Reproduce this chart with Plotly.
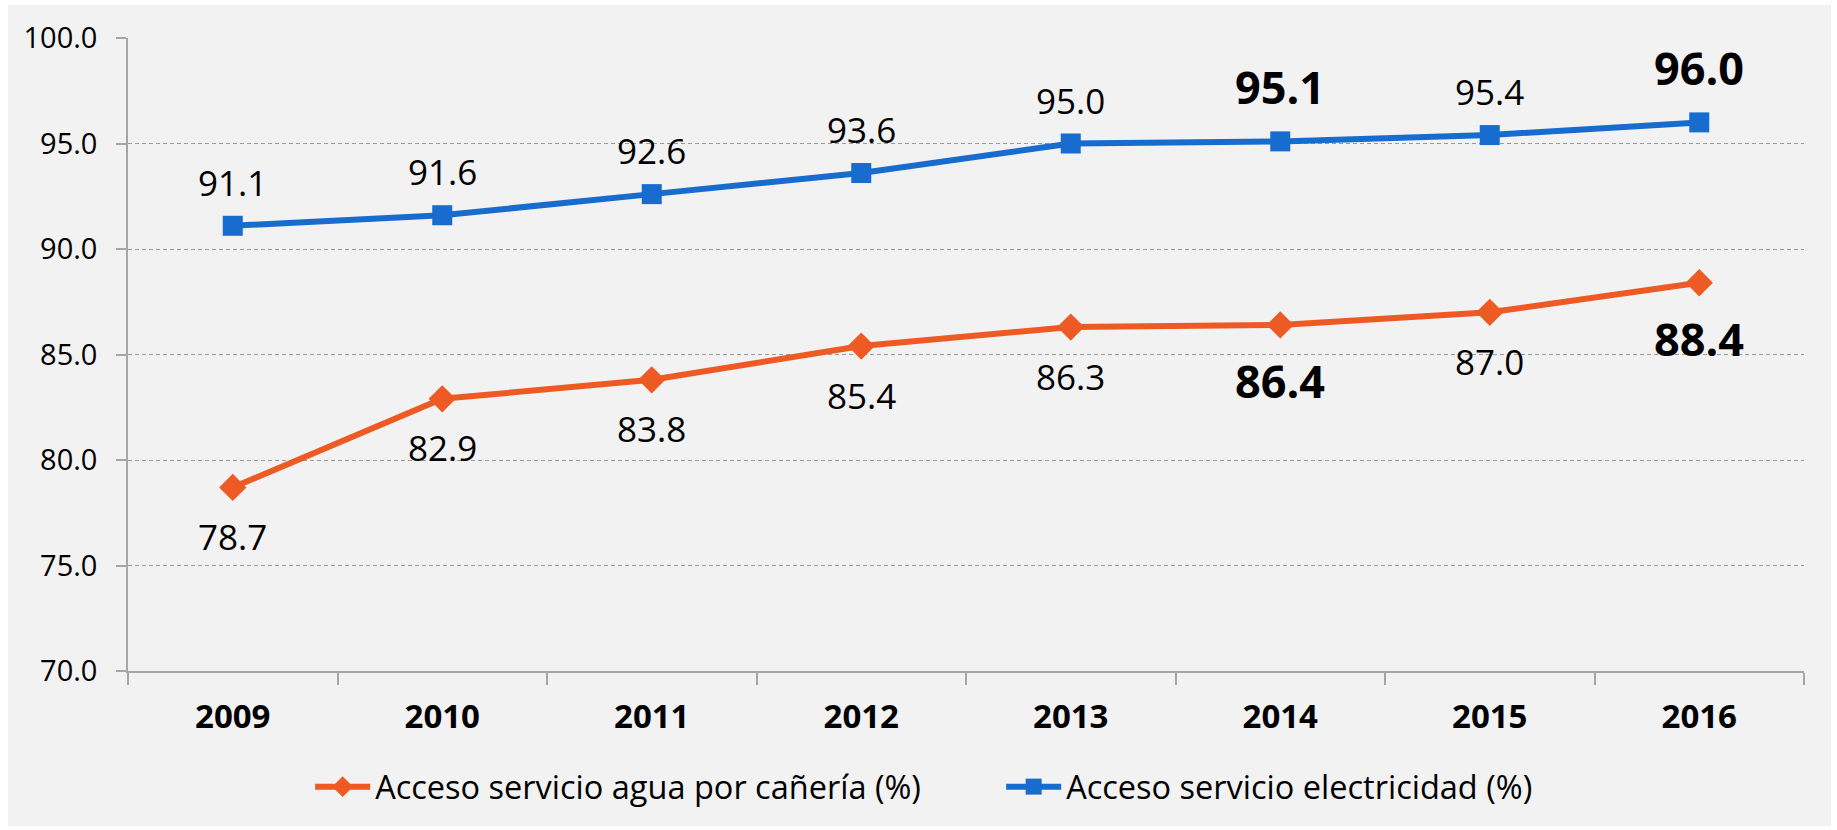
import plotly.graph_objects as go

years = ["2009", "2010", "2011", "2012", "2013", "2014", "2015", "2016"]
agua = [78.7, 82.9, 83.8, 85.4, 86.3, 86.4, 87.0, 88.4]
elec = [91.1, 91.6, 92.6, 93.6, 95.0, 95.1, 95.4, 96.0]
highlight_years = ["2014", "2016"]
name_agua = "Acceso servicio agua por cañería (%)"
name_elec = "Acceso servicio electricidad (%)"

BLUE = "#176CCE"
ORANGE = "#EE5A24"
GRID = "#A6A6A6"
FONT = "Open Sans"

W, H = 1837, 830
L, R, T, B = 128, 33, 38, 159
pw, ph = W - L - R, H - T - B

fig = go.Figure()
fig.add_trace(go.Scatter(
    x=years, y=agua, name=name_agua, mode="lines+markers",
    line=dict(color=ORANGE, width=6),
    marker=dict(symbol="diamond", size=21, color=ORANGE),
))
fig.add_trace(go.Scatter(
    x=years, y=elec, name=name_elec, mode="lines+markers",
    line=dict(color=BLUE, width=6),
    marker=dict(symbol="square", size=20, color=BLUE),
))

annotations = []
for i, (yr, v) in enumerate(zip(years, elec)):
    big = yr in highlight_years
    annotations.append(dict(
        x=i, y=v, xref="x", yref="y", text=(f"<b>{v:.1f}</b>" if big else f"{v:.1f}"),
        showarrow=False, yanchor="middle", yshift=(55 if big else 43.5),
        font=dict(family=FONT, size=(45 if big else 35), color="black"),
    ))
for i, (yr, v) in enumerate(zip(years, agua)):
    big = yr in highlight_years
    annotations.append(dict(
        x=i, y=v, xref="x", yref="y", text=(f"<b>{v:.1f}</b>" if big else f"{v:.1f}"),
        showarrow=False, yanchor="middle", yshift=(-56 if big else -49),
        font=dict(family=FONT, size=(45 if big else 35), color="black"),
    ))

bg = dict(
    type="rect", xref="paper", yref="paper", layer="below",
    x0=(8 - L) / pw, x1=(1831 - L) / pw,
    y0=(H - B - 826) / ph, y1=(H - B - 5) / ph,
    fillcolor="#F2F2F2", line=dict(width=0),
)

fig.update_layout(
    width=W, height=H,
    margin=dict(l=L, r=R, t=T, b=B, pad=0),
    paper_bgcolor="white", plot_bgcolor="#F2F2F2",
    font=dict(family=FONT, color="black"),
    shapes=[bg],
    annotations=annotations,
    showlegend=True,
    legend=dict(
        orientation="h", xref="container", yref="container",
        x=0.545, xanchor="center", y=(H - 787) / H, yanchor="middle",
        font=dict(family=FONT, size=32.5, color="black"),
        bgcolor="rgba(0,0,0,0)", itemwidth=55, entrywidth=621,
    ),
    xaxis=dict(
        type="category", range=[-0.5, 7.5],
        showgrid=False, showline=True, linecolor=GRID, linewidth=1.5,
        ticks="outside", tickson="boundaries", ticklen=12, tickcolor=GRID, tickwidth=1.5,
        tickfont=dict(family=FONT, size=33, color="black", weight="bold"),
        ticklabelstandoff=16,
    ),
    yaxis=dict(
        range=[70, 100], dtick=5, tick0=70, tickformat=".1f",
        showgrid=True, gridcolor="#9A9A9A", griddash="4px,3px", gridwidth=1,
        showline=True, linecolor=GRID, linewidth=1.5,
        ticks="outside", ticklen=10, tickcolor=GRID, tickwidth=1.5,
        tickfont=dict(family=FONT, size=29, color="black"),
        ticklabelstandoff=13, zeroline=False,
    ),
)

fig.write_html(
    "out.html",
    config={"displayModeBar": False},
    post_script="document.body.style.margin='0';document.body.style.overflow='hidden';",
)
